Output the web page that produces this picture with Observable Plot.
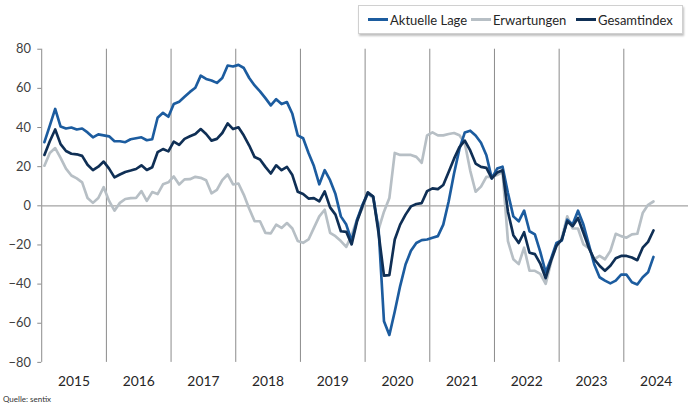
<!DOCTYPE html>
<html>
<head>
<meta charset="utf-8">
<script src="https://cdn.jsdelivr.net/npm/d3@7"></script>
<script src="https://cdn.jsdelivr.net/npm/@observablehq/plot@0.6"></script>
<style>
  html, body { margin: 0; padding: 0; background: #fff; overflow: hidden; }
  #wrap { position: relative; width: 689px; height: 404px; overflow: hidden; font-family: Lato, "Open Sans", sans-serif; }
  #legend { position: absolute; left: 358px; top: 5px; width: 325px; height: 29px; border: 1px solid #d0d0d0; box-shadow: 1px 2px 2px rgba(0,0,0,0.25); background: #fff; box-sizing: border-box; z-index: 2; }
  .item { position: absolute; top: 0; height: 27px; display: flex; align-items: center; font-size: 13px; color: #262626; white-space: nowrap; }
  .sw { width: 20px; height: 3px; margin-right: 2px; }
  #source { position: absolute; left: 3px; top: 394px; font-size: 8px; color: #333; z-index: 2; }
  #chart { position: absolute; left: 0; top: 0; }
</style>
</head>
<body>
<div id="wrap">
  <div id="chart"></div>
  <div id="legend"></div>
  <div id="source">Quelle: sentix</div>
</div>
<script>
const years = ["2015","2016","2017","2018","2019","2020","2021","2022","2023","2024"];
const seriesNames = ["Aktuelle Lage", "Erwartungen", "Gesamtindex"];
const seriesColors = ["#1c5c9f", "#b7bfc5", "#0f2f55"];
const yTicks = [-80, -60, -40, -20, 0, 20, 40, 60, 80];

// monthly values, Jan 2015 – Jun 2024
const aktuelleLage = [
  32.5, 41, 49.5, 40.5, 39.5, 40, 39, 39.5, 37.5, 35, 36.5, 36,
  35.5, 33, 33, 32.5, 34, 34.5, 35, 33.5, 34, 45, 47.5, 45.5,
  52, 53.2, 55.7, 58.2, 60.3, 66.5, 64.8, 64, 62.8, 65.3, 71.7, 71.2,
  72, 70.4, 65.3, 61.5, 58.5, 55, 51.3, 54.5, 52, 53, 47, 36,
  34.5, 27, 20.3, 11, 18.2, 13.1, 6, -5.4, -9.6, -18, -7.1, 0.5,
  6.4, 4.7, -12, -59, -66, -54, -41, -30, -23, -19, -17.5, -17.2,
  -16.3, -15.5, -9.6, 2.2, 16.5, 29.1, 37.5, 38.4, 35.9, 32.2, 25.8, 14,
  19, 20, 6.5, -5.4, -7.9, -2.5, -13, -14.6, -23.5, -34, -27, -19,
  -17.7, -7.1, -9.6, -2.5, -9.6, -19.7, -29.8, -36.5, -38.2, -39.6, -38.2, -35.2,
  -35.2, -39.1, -40.2, -36.5, -34, -26.1
];
const erwartungen = [
  20.5, 27, 29.5, 24.5, 19, 15.5, 14, 12, 4, 1.5, 4, 9.5,
  2.5, -2.5, 1.5, 3.5, 3.9, 4, 7.5, 2.5, 7, 6, 11, 12,
  15, 10.9, 13.5, 13.6, 14.8, 14.3, 13.1, 6.4, 8.1, 13.1, 16, 10.9,
  11.4, 5.6, -1.5, -7.9, -7.9, -13.8, -14.1, -9.6, -11.3, -8.8, -11.6, -18,
  -18.9, -17.2, -11.3, -5.4, -2, -13.8, -15.5, -18, -21, -15, -7, -1.2,
  6.4, 3.9, -12, -3, 4, 27, 26, 26, 26, 25, 22, 36,
  37.5, 36, 36, 36.7, 37.2, 36, 32, 18, 7.2, 9.8, 14.8, 14.8,
  15.7, 17.3, -18, -27.3, -29.8, -21.4, -33.2, -33.2, -34.8, -39.9, -28.9, -19.7,
  -16.3, -5.4, -11.6, -11.6, -19.7, -21.7, -27.3, -25.6, -27.3, -23.1, -14.3, -15.5,
  -16.3, -14.6, -14.3, -3.7, 0.5, 2.2
];
const gesamtindex = [
  26, 33, 39, 31.5, 28, 26.6, 26.3, 25.5, 21, 18.2, 20, 22.6,
  19, 14.5, 16, 17.3, 18, 18.8, 20.7, 18.3, 19.7, 27.4, 29, 27.8,
  32.8, 31.1, 34.2, 35.5, 36.7, 39.2, 36.7, 33.3, 34.2, 37.2, 42.1, 39.2,
  40.1, 35.9, 30.8, 24.9, 23.7, 19.9, 16.5, 20.7, 18.2, 19.9, 15.7, 7.2,
  6, 3.7, 3.9, 2.3, 7.4, -0.8, -4.5, -13, -13.3, -19.7, -8, -0.3,
  6.9, 4.7, -14, -35.7, -35.4, -17.2, -9.6, -4.5, -0.3, 0.9, 1.4, 7.5,
  8.9, 8.5, 10.6, 17.3, 24.1, 30, 33.3, 28.3, 21.6, 19.9, 19.4, 14,
  17, 18.2, -3, -15, -19, -13.5, -24, -24.7, -29.5, -37, -28, -20.5,
  -17.2, -7.9, -10.4, -6.2, -13.8, -21.4, -27.3, -30.6, -33.2, -30.6, -26.8, -25.6,
  -25.6, -26.4, -27.8, -21.4, -18.4, -12.6
];

// month slots: each year has 12 slots; boundaries between years, labels at year centres
const yearCenters = years.map((y, k) => k * 12 + 5.5);
const yearBounds = years.slice(1).map((y, k) => (k + 1) * 12 - 0.5);
const toPoints = arr => arr.map((v, i) => ({i, v}));

const chart = Plot.plot({
  width: 697,
  height: 404,
  marginLeft: 41.7,
  marginRight: 1,
  marginTop: 49.3,
  marginBottom: 37.9,
  x: {type: "linear", domain: [-0.5, years.length * 12 - 0.5], label: null},
  y: {domain: [-80, 80], label: null},
  style: {fontFamily: "Lato, 'Open Sans', sans-serif", fontSize: "13px", color: "#404040", background: "transparent"},
  marks: [
    Plot.ruleX(yearBounds, {stroke: "#8a8a8a", strokeWidth: 1}),
    Plot.ruleX([-0.5], {stroke: "#8a8a8a", strokeWidth: 1}),
    Plot.ruleY([0], {stroke: "#a3a3a3", strokeWidth: 1.3}),
    Plot.axisY(yTicks, {tickSize: 4, tickPadding: 7, stroke: "#8a8a8a", fontSize: 13, label: null}),
    Plot.axisX(yearCenters, {tickSize: 0, tickPadding: 14, fontSize: 14, fill: "#262626", tickFormat: (d, i) => years[i], label: null}),
    Plot.line(toPoints(erwartungen), {x: "i", y: "v", stroke: seriesColors[1], strokeWidth: 2.7}),
    Plot.line(toPoints(aktuelleLage), {x: "i", y: "v", stroke: seriesColors[0], strokeWidth: 2.7}),
    Plot.line(toPoints(gesamtindex), {x: "i", y: "v", stroke: seriesColors[2], strokeWidth: 2.7})
  ]
});
document.getElementById("chart").appendChild(chart);

// legend
const legendPos = [9, 112, 217];
const legend = document.getElementById("legend");
seriesNames.forEach((name, k) => {
  const item = document.createElement("div");
  item.className = "item";
  item.style.left = legendPos[k] + "px";
  const sw = document.createElement("span");
  sw.className = "sw";
  sw.style.background = seriesColors[k];
  const t = document.createElement("span");
  t.textContent = name;
  item.appendChild(sw);
  item.appendChild(t);
  legend.appendChild(item);
});
</script>
</body>
</html>
